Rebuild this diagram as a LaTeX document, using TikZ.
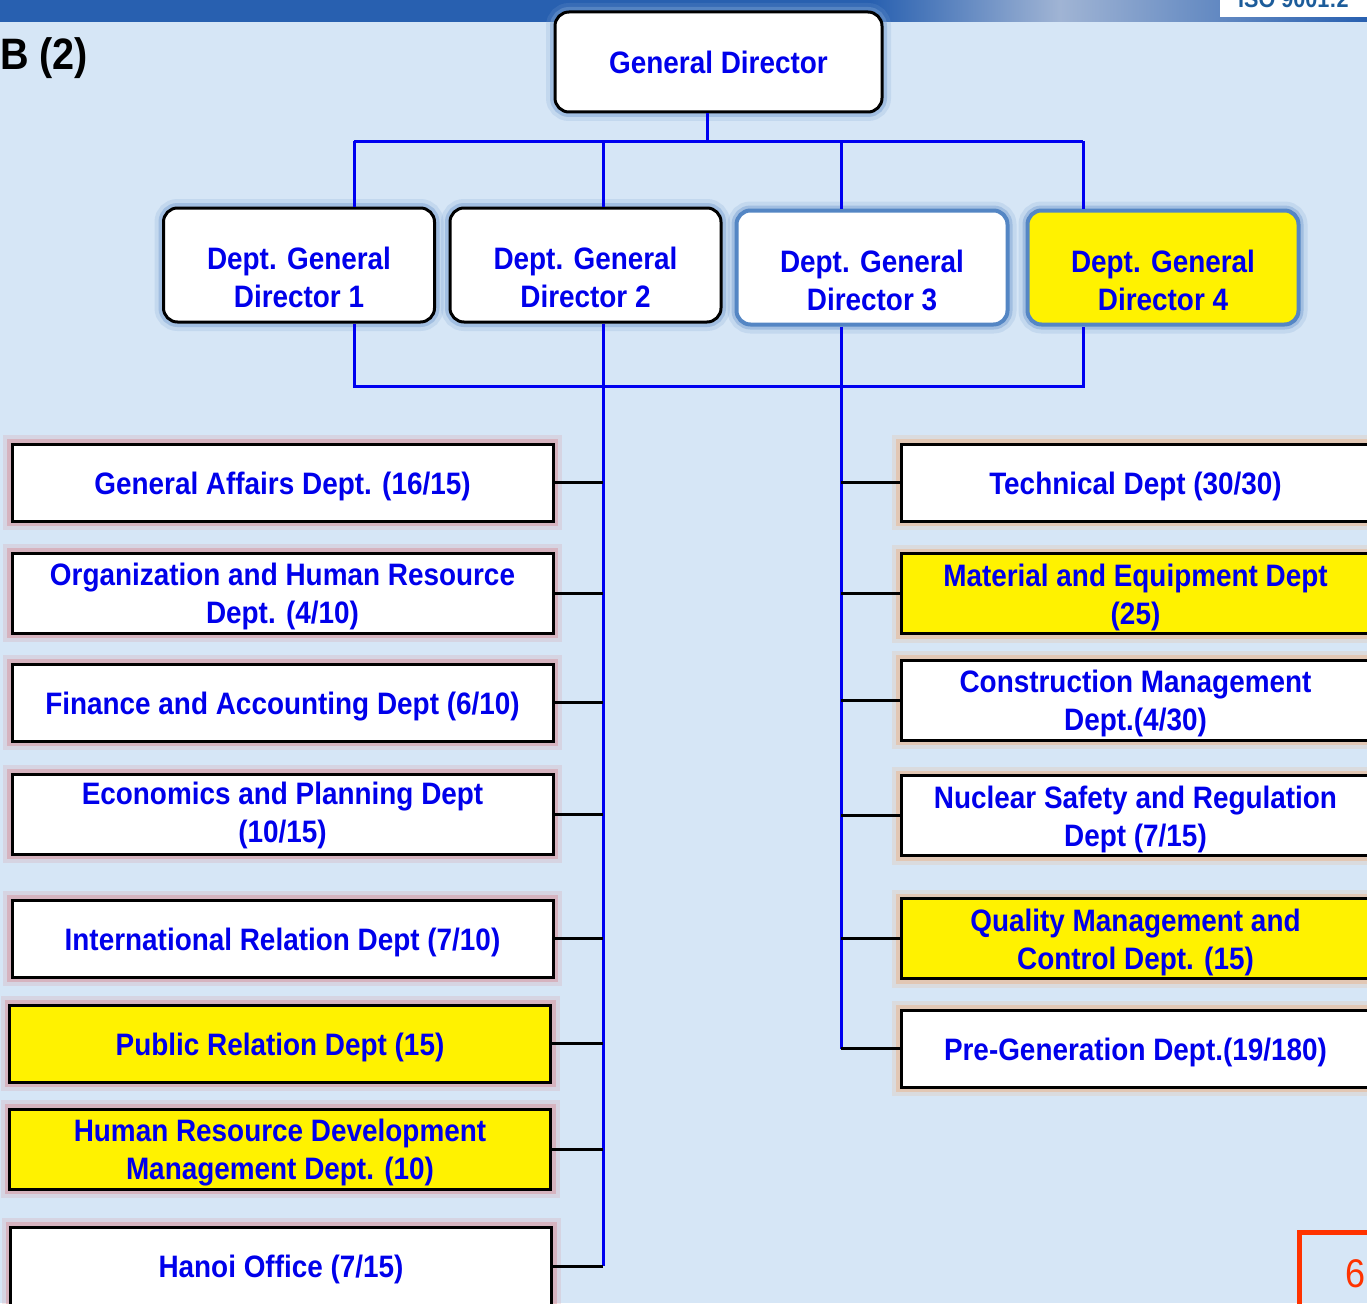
\documentclass[tikz,border=0pt]{standalone}
\usepackage{fontspec}
\setmainfont{Liberation Sans}[FakeStretch=0.9]
\usetikzlibrary{positioning}
\usetikzlibrary{calc}

\definecolor{bgblue}{RGB}{214,230,246}
\definecolor{bandblue}{RGB}{40,96,176}
\definecolor{bandlight}{RGB}{160,180,212}
\definecolor{txtblue}{RGB}{0,0,235}
\definecolor{linkblue}{RGB}{0,0,240}
\definecolor{steel}{RGB}{84,134,196}
\definecolor{glowblue}{RGB}{120,160,210}
\definecolor{glowpink}{RGB}{214,140,150}
\definecolor{glowpeach}{RGB}{236,176,130}
\definecolor{pagered}{RGB}{255,51,0}
\definecolor{isoblue}{RGB}{28,92,154}

% text block, moved down inside its box
\newcommand{\lowerlines}[2][-4pt]{\raisebox{#1}[\height][\depth]{\begin{tabular}{@{}c@{}}#2\end{tabular}}}

\tikzset{
  deptfont/.style={font=\fontsize{31}{38}\selectfont\bfseries, text=txtblue, inner sep=2pt},
  glow/.style={preaction={draw=#1, line width=18pt, opacity=0.2},
    preaction={draw=#1, line width=10pt, opacity=0.45}},
  boss/.style={deptfont, draw=black, line width=3pt, fill=white, rounded corners=14pt, glow=glowblue},
  deputy/.style={boss, minimum width=271pt, minimum height=114pt},
  deputysoft/.style={deputy, draw=steel, line width=4pt},
  leftdept/.style={deptfont, draw=black, line width=3pt, fill=white,
    minimum width=541pt, minimum height=77pt, glow=glowpink},
  rightdept/.style={deptfont, draw=black, line width=3pt, fill=white,
    minimum width=469pt, minimum height=77pt, glow=glowpeach},
  hilite/.style={fill=yellow},
  bus/.style={draw=linkblue, line width=3pt},
  stub/.style={draw=black, line width=3pt}
}

\begin{document}
\begin{tikzpicture}[x=1pt, y=-1pt]
  \useasboundingbox (0,0) rectangle (1367,1303);
  \fill[bgblue] (0,0) rectangle (1367,1303);

  % header band
  \fill[bandblue] (0,0) rectangle (870,22);
  \shade[left color=bandblue, right color=bandlight] (870,0) rectangle (1060,22);
  \shade[left color=bandlight, right color=bandblue] (1060,0) rectangle (1367,22);
  \fill[white] (1220,0) rectangle (1367,17);
  \node[anchor=base west, inner sep=0pt, text=isoblue, font=\fontsize{24}{24}\selectfont\bfseries] (iso) at (1238,8) {ISO 9001:2};
  \node[anchor=west, inner sep=0pt, font=\fontsize{44}{48}\selectfont\bfseries] (title) at (0,58) {B (2)};

  % directors
  \node[boss, minimum width=327pt, minimum height=100pt] (gd) at (718.5,62) {\lowerlines{General Director}};
  \node[deputy] (d1) at (299,265) {\lowerlines[-16pt]{Dept. General\\Director 1}};
  \node[deputy] (d2) at (585.5,265) {\lowerlines[-16pt]{Dept. General\\Director 2}};
  \node[deputysoft] (d3) at (872,267.5) {\lowerlines[-16pt]{Dept. General\\Director 3}};
  \node[deputysoft, hilite] (d4) at (1163,267.5) {\lowerlines[-16pt]{Dept. General\\Director 4}};

  % left departments
  \node[leftdept] (ga) at (282.5,482.5) {\lowerlines{General Affairs Dept. (16/15)}};
  \node[leftdept] (ohr) at (282.5,593) {\lowerlines{Organization and Human Resource\\Dept. (4/10)}};
  \node[leftdept] (fa) at (282.5,702.5) {\lowerlines{Finance and Accounting Dept (6/10)}};
  \node[leftdept] (ep) at (282.5,814) {\lowerlines[-2pt]{Economics and Planning Dept\\(10/15)}};
  \node[leftdept] (ir) at (282.5,938.5) {\lowerlines{International Relation Dept (7/10)}};
  \node[leftdept, hilite] (pr) at (280,1043.5) {\lowerlines{Public Relation Dept (15)}};
  \node[leftdept, hilite] (hrd) at (280,1149) {\lowerlines{Human Resource Development\\Management Dept. (10)}};
  \node[leftdept, minimum height=78pt] (hn) at (281,1266) {\lowerlines{Hanoi Office (7/15)}};

  % right departments
  \node[rightdept] (tech) at (1135.5,482.5) {\lowerlines{Technical Dept (30/30)}};
  \node[rightdept, hilite] (mat) at (1135.5,593.5) {\lowerlines{Material and Equipment Dept\\(25)}};
  \node[rightdept] (cm) at (1135.5,700) {\lowerlines{Construction Management\\Dept.(4/30)}};
  \node[rightdept] (ns) at (1135.5,815.5) {\lowerlines{Nuclear Safety and Regulation\\Dept (7/15)}};
  \node[rightdept, hilite] (qm) at (1135.5,938.5) {\lowerlines{Quality Management and\\Control Dept. (15)}};
  \node[rightdept] (pg) at (1135.5,1048.5) {\lowerlines{Pre-Generation Dept.(19/180)}};

  % page number
  \node[draw=pagered, line width=5pt, minimum width=112pt, minimum height=84pt,
    text=pagered, font=\fontsize{40}{40}\selectfont] (pageno) at (1355,1274) {6};

  % connectors
  \coordinate (top) at (707,141);
  \coordinate (j1) at (354,141);
  \coordinate (j2) at (603,141);
  \coordinate (j3) at (841,141);
  \coordinate (j4) at (1083,141);
  \coordinate (k1) at (354,386);
  \coordinate (k4) at (1083,386);
  \draw[bus] (gd.south -| top) -- (top);
  \draw[bus] (j1) -- (j4);
  \foreach \j/\d in {j1/d1, j2/d2, j3/d3, j4/d4}
    \draw[bus] (\j) -- (\j |- \d.north);
  \draw[bus] (d1.south -| k1) -- (k1) -- (k4) -- (d4.south -| k4);
  \draw[bus] (d2.south -| j2) -- (j2 |- hn.east);
  \draw[bus] (d3.south -| j3) -- (j3 |- pg.west);
  \foreach \n in {ga, ohr, fa, ep, ir, pr, hrd, hn}
    \draw[stub] (\n.east) -- (\n.east -| j2);
  \foreach \n in {tech, mat, cm, ns, qm, pg}
    \draw[stub] (\n.west) -- (\n.west -| j3);
\end{tikzpicture}
\end{document}
